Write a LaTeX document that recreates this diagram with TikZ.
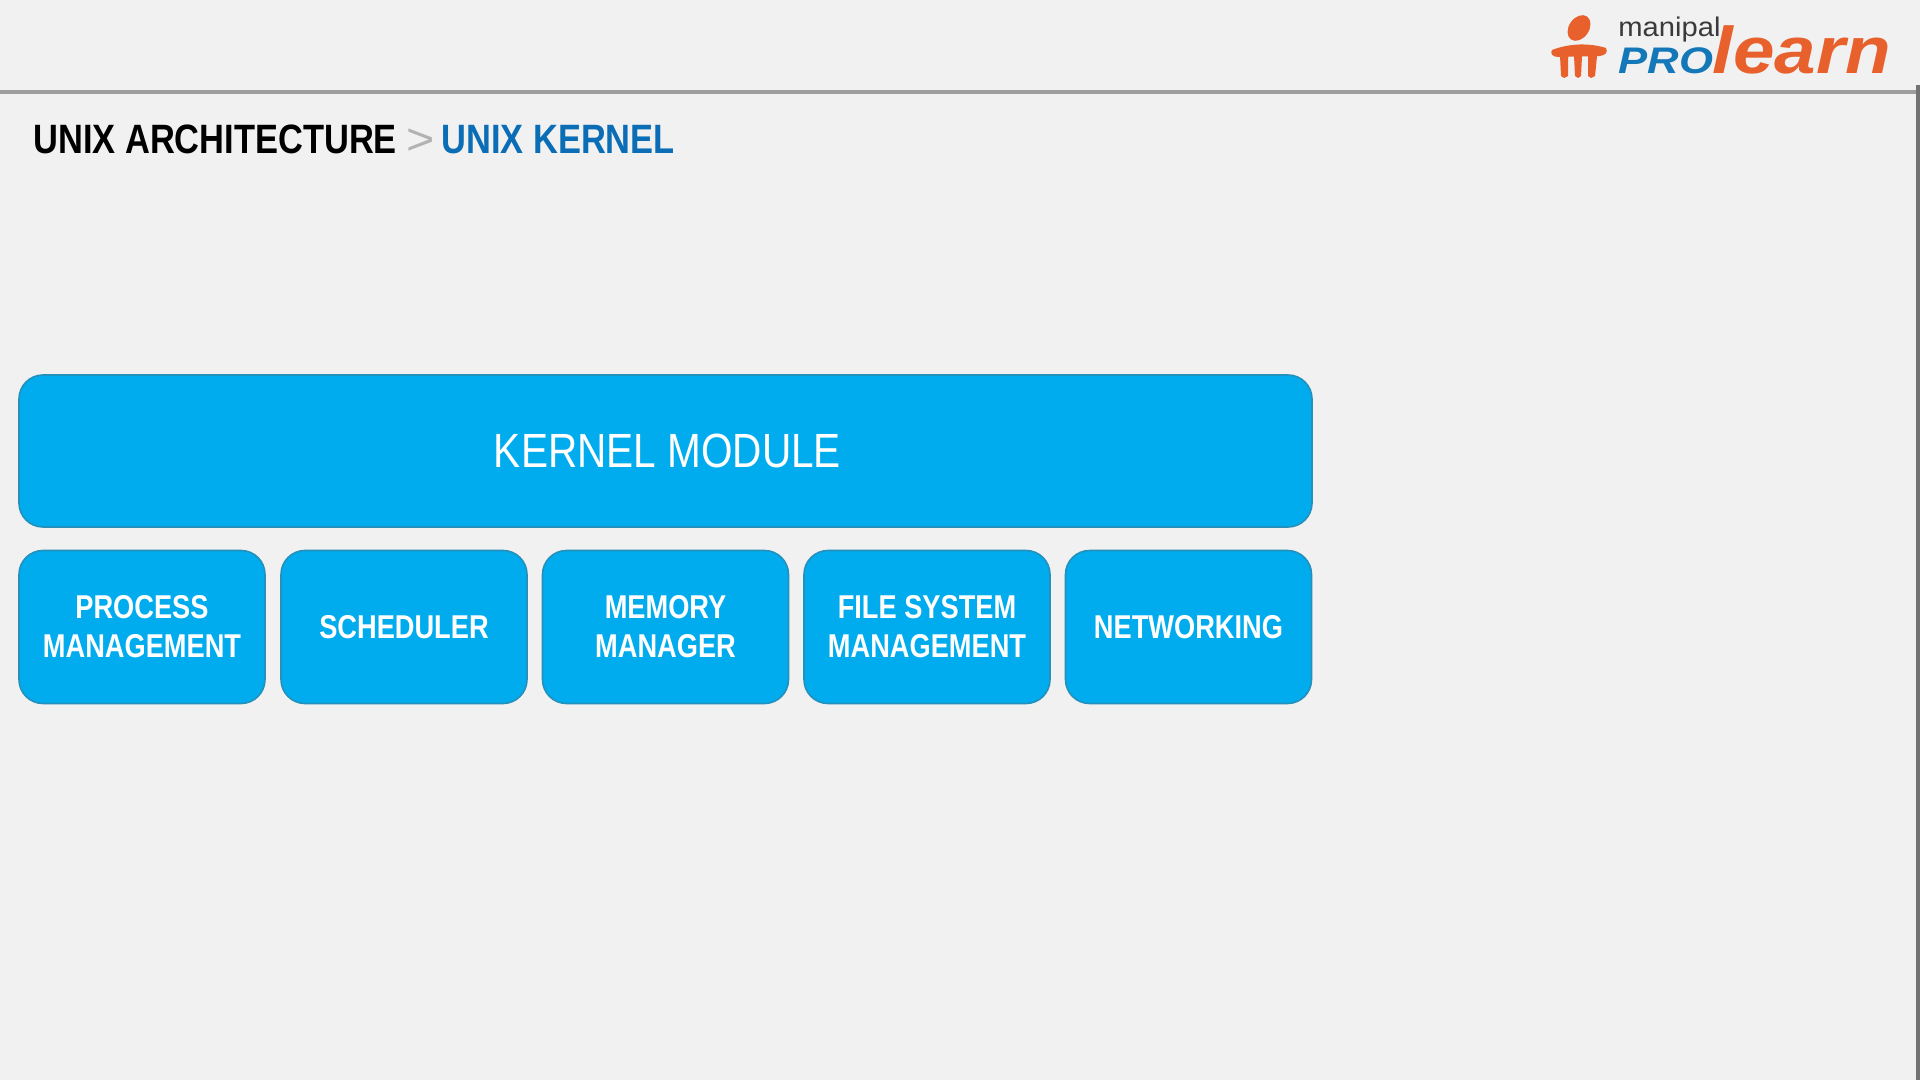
\documentclass[tikz,border=0pt]{standalone}
\usepackage{fontspec}
\setmainfont{Liberation Sans}
\newfontfamily\headfont[FakeStretch=0.84]{Liberation Sans}
\newfontfamily\boxfont[FakeStretch=0.825]{Liberation Sans}
\newfontfamily\kernfont[FakeStretch=0.845]{Liberation Sans}
\newfontfamily\gtfont[FakeStretch=1.1]{Liberation Sans}
\newfontfamily\manipalfont[FakeStretch=1.08]{Liberation Sans}
\newfontfamily\profont[FakeStretch=1.18]{Liberation Sans}
\newfontfamily\learnfont[FakeStretch=1.13]{Liberation Sans}
\definecolor{pagebg}{HTML}{F1F1F1}
\definecolor{boxfill}{HTML}{00ACEE}
\definecolor{boxedge}{HTML}{2490BC}
\definecolor{headblue}{HTML}{0A6DB5}
\definecolor{logoorange}{HTML}{E8602C}
\definecolor{logoblue}{HTML}{1478B8}
\definecolor{logogray}{HTML}{3A3A3A}
\tikzset{
  x=0.5pt,y=-0.5pt,
  bigbox/.style={draw=boxedge,line width=0.8pt,fill=boxfill,rounded corners=12pt,text=white,inner sep=0pt,align=center,font=\boxfont},
  smallbox/.style={bigbox,minimum width=123pt,minimum height=76.5pt,font=\boxfont\bfseries\fontsize{16.5}{19.5}\selectfont},
  head/.style={anchor=base west,inner sep=0pt,font=\headfont\bfseries\fontsize{20.5}{24}\selectfont},
  logotext/.style={inner sep=0pt,anchor=base west}
}
\begin{document}
\begin{tikzpicture}
\useasboundingbox (0,0) rectangle (1920,1080);
\fill[pagebg] (0,0) rectangle (1920,1080);
% top rule and right edge
\coordinate (ruleL) at (0,92);
\coordinate (ruleR) at (1920,92);
\draw[line width=1.6pt,color=black!38] (ruleL) -- (ruleR);
\fill[black!55] (1916,85) rectangle (1920,1080);
% heading
\node[head,text=black] (h1) at (33,154) {UNIX ARCHITECTURE};
\node[head,text=black!30,font=\gtfont\fontsize{22}{24}\selectfont] (h2) at (406,155) {>};
\node[head,text=headblue] (h3) at (441,154) {UNIX KERNEL};
% kernel
\node[bigbox,minimum width=646.5pt,minimum height=76pt] (kernel) at (665.5,451) {};
\node[text=white,inner sep=0pt,font=\kernfont\fontsize{24}{28}\selectfont] (kernellabel) at (667.5,451) {KERNEL MODULE};
\node[smallbox] (pm) at (142,627) {PROCESS\\MANAGEMENT};
\node[smallbox] (sch) at (404,627) {SCHEDULER};
\node[smallbox] (mem) at (665.5,627) {MEMORY\\MANAGER};
\node[smallbox] (fs) at (927,627) {FILE SYSTEM\\MANAGEMENT};
\node[smallbox] (net) at (1188.5,627) {NETWORKING};
% logo
\fill[logoorange] (1579,28) ellipse[x radius=10,y radius=14,rotate=-35];
\fill[logoorange] (1552,50) .. controls (1570,43) and (1590,43) .. (1606,48) .. controls (1608,52) and (1606,55) .. (1600,56) -- (1558,57) .. controls (1552,57) and (1550,53) .. (1552,50) -- cycle;
\fill[logoorange] (1560,56) -- (1568,56) -- (1568,76) -- (1564,78) -- (1561,76) -- cycle;
\fill[logoorange] (1574,56) -- (1582,56) -- (1581,76) -- (1578,78) -- (1575,76) -- cycle;
\fill[logoorange] (1588,56) -- (1597,56) -- (1595,76) -- (1591,78) -- (1588,76) -- cycle;
\node[logotext,text=logogray,font=\manipalfont\fontsize{13.5}{15}\selectfont] (lm) at (1618,37) {manipal};
\node[logotext,text=logoblue,font=\profont\bfseries\itshape\fontsize{18.5}{22}\selectfont] (lp) at (1618,74) {PRO};
\node[logotext,text=logoorange,font=\learnfont\bfseries\itshape\fontsize{33}{36}\selectfont] (ll) at (1712,74) {learn};
\end{tikzpicture}
\end{document}
